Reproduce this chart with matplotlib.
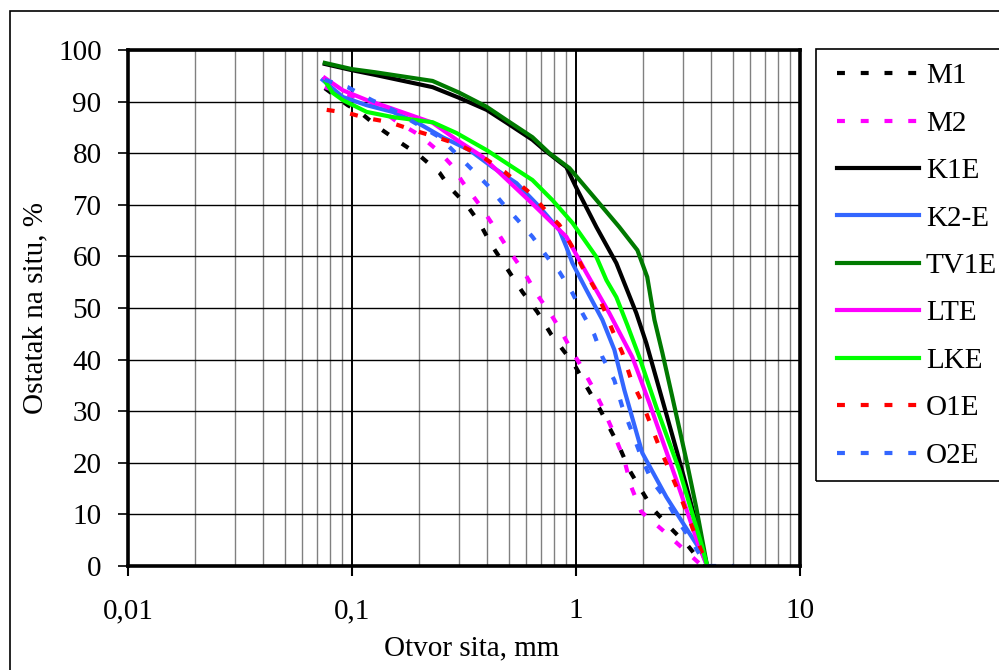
import matplotlib
matplotlib.use("Agg")
import matplotlib.pyplot as plt
from matplotlib.ticker import LogLocator, FixedLocator, FixedFormatter, NullFormatter
from matplotlib.patches import Rectangle

plt.rcParams['font.family'] = ['Liberation Serif', 'DejaVu Serif']

# ---- data (sieve opening mm, residue %) ----
m1_x = [0.0756, 0.0957, 0.1082, 0.1302, 0.1599, 0.1983, 0.2460, 0.2727, 0.3247, 0.3710, 0.4196,
        0.4895, 0.5768, 0.6730, 0.7767, 0.9838, 1.1240, 1.2847, 1.5616, 1.7303, 1.9569, 2.1909,
        2.6087, 3.1383, 3.5496, 3.7365]
m1_y = [92.6, 89.3, 88.0, 85.1, 82.4, 79.7, 76.2, 73.4, 70.0, 66.5, 62.2,
        57.8, 53.1, 49.2, 44.8, 39.0, 34.5, 30.2, 23.1, 18.6, 14.7, 11.2,
        7.6, 4.1, 1.2, 0.0]

m2_x = [0.0756, 0.1028, 0.1262, 0.1599, 0.2004, 0.2460, 0.2783, 0.3116, 0.3710, 0.4196, 0.4946,
        0.5888, 0.6730, 0.7767, 0.8433, 0.9638, 1.0356, 1.1714, 1.3115, 1.4533, 1.6439, 1.7661,
        1.9569, 2.4279, 2.9815, 3.6606]
m2_y = [92.8, 90.9, 89.3, 86.0, 83.5, 80.2, 77.7, 74.4, 70.0, 66.5, 61.6,
        56.8, 52.5, 48.6, 46.1, 41.5, 39.3, 35.1, 30.8, 26.4, 20.5, 15.3,
        10.5, 7.0, 3.5, 0.0]

k1e_x = [0.0756, 0.0997, 0.1262, 0.229, 0.302, 0.399, 0.490, 0.639, 0.723, 0.906, 1.014, 1.233,
         1.514, 1.859, 2.060, 2.354, 2.833, 3.203, 3.85]
k1e_y = [97.3, 96.1, 95.2, 92.8, 90.7, 88.4, 85.9, 82.6, 80.6, 77.3, 72.9, 65.7,
         58.7, 49.0, 43.2, 34.3, 21.9, 13.4, 0.0]

k2e_x = [0.0740, 0.0909, 0.1163, 0.1519, 0.1943, 0.2537, 0.3348, 0.4240, 0.5425, 0.6869, 0.8433,
         0.9063, 0.9638, 1.1126, 1.3115, 1.4834, 1.6439, 1.9771, 2.5293, 3.2033, 3.6606, 3.85]
k2e_y = [94.2, 90.9, 89.3, 88.0, 86.0, 83.1, 80.6, 77.3, 74.2, 69.6, 65.1,
         61.8, 58.7, 53.5, 47.7, 41.9, 34.1, 21.9, 13.4, 6.4, 2.5, 0.0]

tv1e_x = [0.0756, 0.0997, 0.1262, 0.229, 0.302, 0.399, 0.490, 0.639, 0.761, 0.935, 1.31, 1.56,
          1.88, 2.08, 2.24, 2.43, 2.69, 3.11, 3.44, 3.85]
tv1e_y = [97.5, 96.3, 95.7, 94.0, 91.7, 89.0, 86.4, 83.1, 80.0, 77.1, 69.6, 65.7,
          61.2, 56.0, 47.7, 41.3, 32.8, 20.5, 11.4, 0.0]

lte_x = [0.0756, 0.0909, 0.1163, 0.1473, 0.229, 0.293, 0.383, 0.456, 0.639, 0.906, 1.113, 1.409,
         1.784, 2.125, 2.804, 3.550, 3.85]
lte_y = [94.6, 92.2, 90.3, 88.8, 85.9, 82.6, 79.3, 76.2, 70.2, 63.8, 56.8, 49.0,
         40.5, 31.6, 16.7, 3.7, 0.0]

lke_x = [0.0763, 0.0820, 0.0909, 0.1163, 0.1519, 0.229, 0.293, 0.399, 0.521, 0.639, 0.785, 0.964,
         1.233, 1.367, 1.514, 1.695, 1.917, 2.283, 2.891, 3.661, 3.85]
lke_y = [93.8, 91.7, 90.3, 88.0, 87.0, 86.0, 83.9, 80.6, 77.3, 74.8, 70.9, 66.5,
         59.9, 55.4, 52.1, 46.7, 40.5, 30.8, 18.6, 3.7, 0.0]

o1e_x = [0.0771, 0.0957, 0.1163, 0.1473, 0.1865, 0.2386, 0.3022, 0.3826, 0.4796, 0.6391, 0.7609,
         0.8433, 0.9638, 1.0678, 1.2080, 1.3387, 1.4533, 1.6105, 1.7661, 1.9771, 2.3540, 2.8907,
         3.4776, 3.85]
o1e_y = [88.4, 87.8, 86.8, 86.0, 84.5, 83.1, 81.6, 79.3, 76.4, 71.9, 68.0,
         66.1, 61.8, 57.9, 53.9, 49.6, 45.7, 41.3, 36.0, 31.6, 23.1, 14.1,
         5.0, 0.0]

o2e_x = [0.0756, 0.0957, 0.1224, 0.1519, 0.1904, 0.2460, 0.2812, 0.3348, 0.4027, 0.4698, 0.5481,
         0.6391, 0.7609, 0.8433, 0.9638, 1.0678, 1.2080, 1.3115, 1.4834, 1.6105, 1.7844, 1.9569,
         2.1686, 2.5293, 2.8329, 3.2698, 3.6232, 3.85, 5.08]
o2e_y = [94.2, 92.8, 90.3, 88.4, 85.9, 83.1, 80.6, 77.3, 73.8, 70.3, 67.1,
         63.8, 59.3, 57.0, 52.9, 49.0, 44.8, 40.5, 36.0, 30.8, 25.8, 21.1,
         16.7, 12.8, 8.9, 5.0, 1.7, 0.0, 0.0]

x_ticks = [0.01, 0.1, 1, 10]
x_tick_labels = ["0,01", "0,1", "1", "10"]
y_ticks = list(range(0, 101, 10))

# ---- figure ----
fig = plt.figure(figsize=(9.99, 6.70), dpi=100)
ax = fig.add_axes([128/999, 1-566/670, 672/999, 516/670])

DASH = (1.9, 3.8)
LW = 3.0
series = [
    (m1_x, m1_y, "M1", "#000000", True),
    (m2_x, m2_y, "M2", "#FF00FF", True),
    (k1e_x, k1e_y, "K1E", "#000000", False),
    (k2e_x, k2e_y, "K2-E", "#3366FF", False),
    (tv1e_x, tv1e_y, "TV1E", "#007A00", False),
    (lte_x, lte_y, "LTE", "#FF00FF", False),
    (lke_x, lke_y, "LKE", "#00FF00", False),
    (o1e_x, o1e_y, "O1E", "#FF0000", True),
    (o2e_x, o2e_y, "O2E", "#3366FF", True),
]
for xs, ys, lab, col, dashed in series:
    if dashed:
        ax.plot(xs, ys, color=col, lw=LW, dashes=DASH, label=lab, zorder=3)
    else:
        ax.plot(xs, ys, color=col, lw=LW, label=lab, zorder=3, solid_joinstyle='round')

ax.set_xscale('log')
ax.set_xlim(0.01, 10)
ax.set_ylim(0, 100)

ax.xaxis.set_major_locator(FixedLocator(x_ticks))
ax.xaxis.set_major_formatter(FixedFormatter(x_tick_labels))
ax.xaxis.set_minor_locator(LogLocator(base=10, subs=[2, 3, 4, 5, 6, 7, 8, 9], numticks=20))
ax.xaxis.set_minor_formatter(NullFormatter())
ax.set_yticks(y_ticks)

ax.tick_params(axis='x', which='major', direction='out', length=7, width=1.5, pad=16,
               labelsize=21, color='black')
ax.tick_params(axis='x', which='minor', length=0)
ax.tick_params(axis='y', which='major', direction='out', length=7, width=1.2, pad=12,
               labelsize=21, color='black')

ax.grid(True, which='major', axis='x', color='black', lw=1.4, zorder=1)
ax.grid(True, which='minor', axis='x', color='#808080', lw=1.0, zorder=1)
ax.grid(True, which='major', axis='y', color='black', lw=1.0, zorder=1)
ax.set_axisbelow(True)

for sp in ax.spines.values():
    sp.set_linewidth(2.6)
    sp.set_color('black')
    sp.set_zorder(4)

fig.text(472/999, 1-655/670, "Otvor sita, mm", ha='center', va='baseline', fontsize=21)
fig.text(35/999, 1-308/670, "Ostatak na situ, %", ha='center', va='center', rotation=90,
         fontsize=21)

# legend
handles, labels = ax.get_legend_handles_labels()
leg = fig.legend(handles, labels, loc='upper left', bbox_to_anchor=(837/999, 1-63/670),
                 frameon=False, fontsize=21, handlelength=2.8, handletextpad=0.25,
                 labelspacing=0.72, borderpad=0, borderaxespad=0)
fig.add_artist(Rectangle((816/999, 1-481/670), 0.3, (481-49)/670, transform=fig.transFigure,
                         fill=False, edgecolor='black', lw=1.2))

# outer figure border
fig.add_artist(Rectangle((10/999, -0.1), 1.2, (1-11/670) + 0.1,
                         transform=fig.transFigure, fill=False, edgecolor='black', lw=1.2))

fig.savefig("out.png", dpi=100)
